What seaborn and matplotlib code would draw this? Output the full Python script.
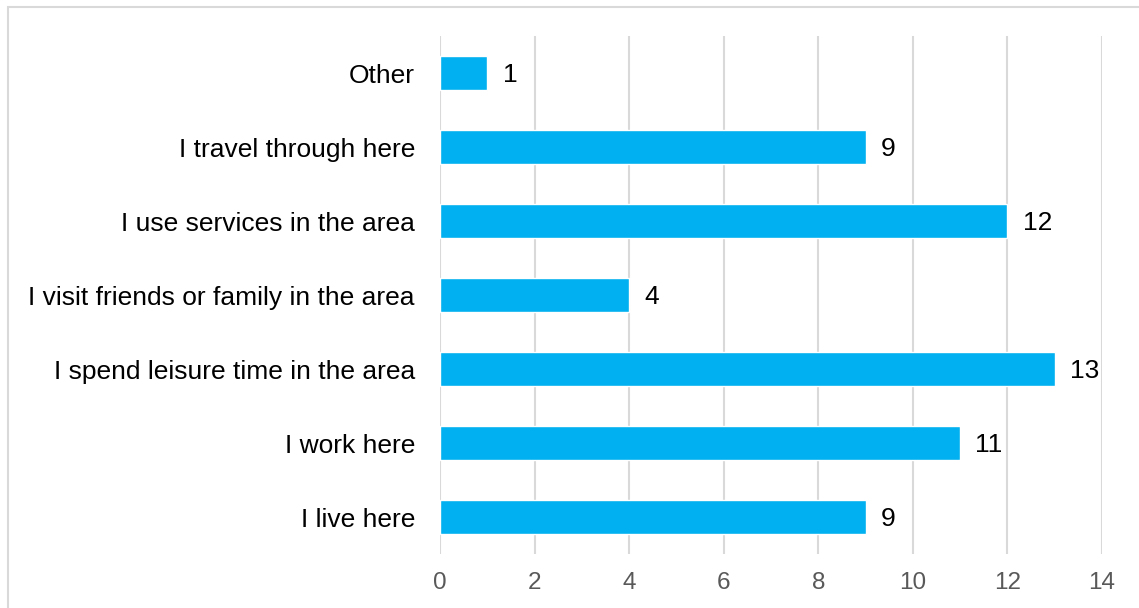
import matplotlib
matplotlib.use("Agg")
import matplotlib.pyplot as plt
import seaborn as sns
import pandas as pd
from matplotlib.patches import Rectangle

categories = ["Other", "I travel through here", "I use services in the area",
              "I visit friends or family in the area", "I spend leisure time in the area",
              "I work here", "I live here"]
values = [1, 9, 12, 4, 13, 11, 9]
xticks = [0, 2, 4, 6, 8, 10, 12, 14]

sns.set_theme(style="white")
plt.rcParams['font.family'] = ['Liberation Sans', 'DejaVu Sans']

df = pd.DataFrame({"category": categories, "value": values})

fig = plt.figure(figsize=(11.39, 6.08), dpi=100)
ax = fig.add_axes([440/1139, 1-554/608, (1102-440)/1139, (554-36)/608])

sns.barplot(data=df, y="category", x="value", order=categories, color="#00B0F0",
            saturation=1, width=0.46, ax=ax, orient="h")

ax.set_xlim(0, 14)
ax.set_ylim(6.5, -0.5)
ax.set_xticks(xticks)
ax.set_xticklabels([str(t) for t in xticks])
ax.xaxis.grid(True, color="#d9d9d9", linewidth=1.5)
ax.set_axisbelow(True)
for s in ax.spines.values():
    s.set_visible(False)
ax.set_xlabel("")
ax.set_ylabel("")
ax.tick_params(axis="x", colors="#595959", labelsize=17.5, length=0, pad=13)
ax.tick_params(axis="y", colors="black", labelsize=19, length=0, pad=18)
for lbl in ax.get_yticklabels():
    lbl.set_color("black")

for i, v in enumerate(values):
    ax.annotate(str(v), xy=(v, i), xytext=(11, -1.5), textcoords="offset points",
                va="center", ha="left", fontsize=19, color="black")

fig.patches.append(Rectangle((8/1139, -0.1), 1.2, 1 - 7/608 + 0.1,
                             transform=fig.transFigure, fill=False,
                             edgecolor="#d9d9d9", linewidth=1.5))

fig.savefig("out.png", dpi=100, facecolor="white")
